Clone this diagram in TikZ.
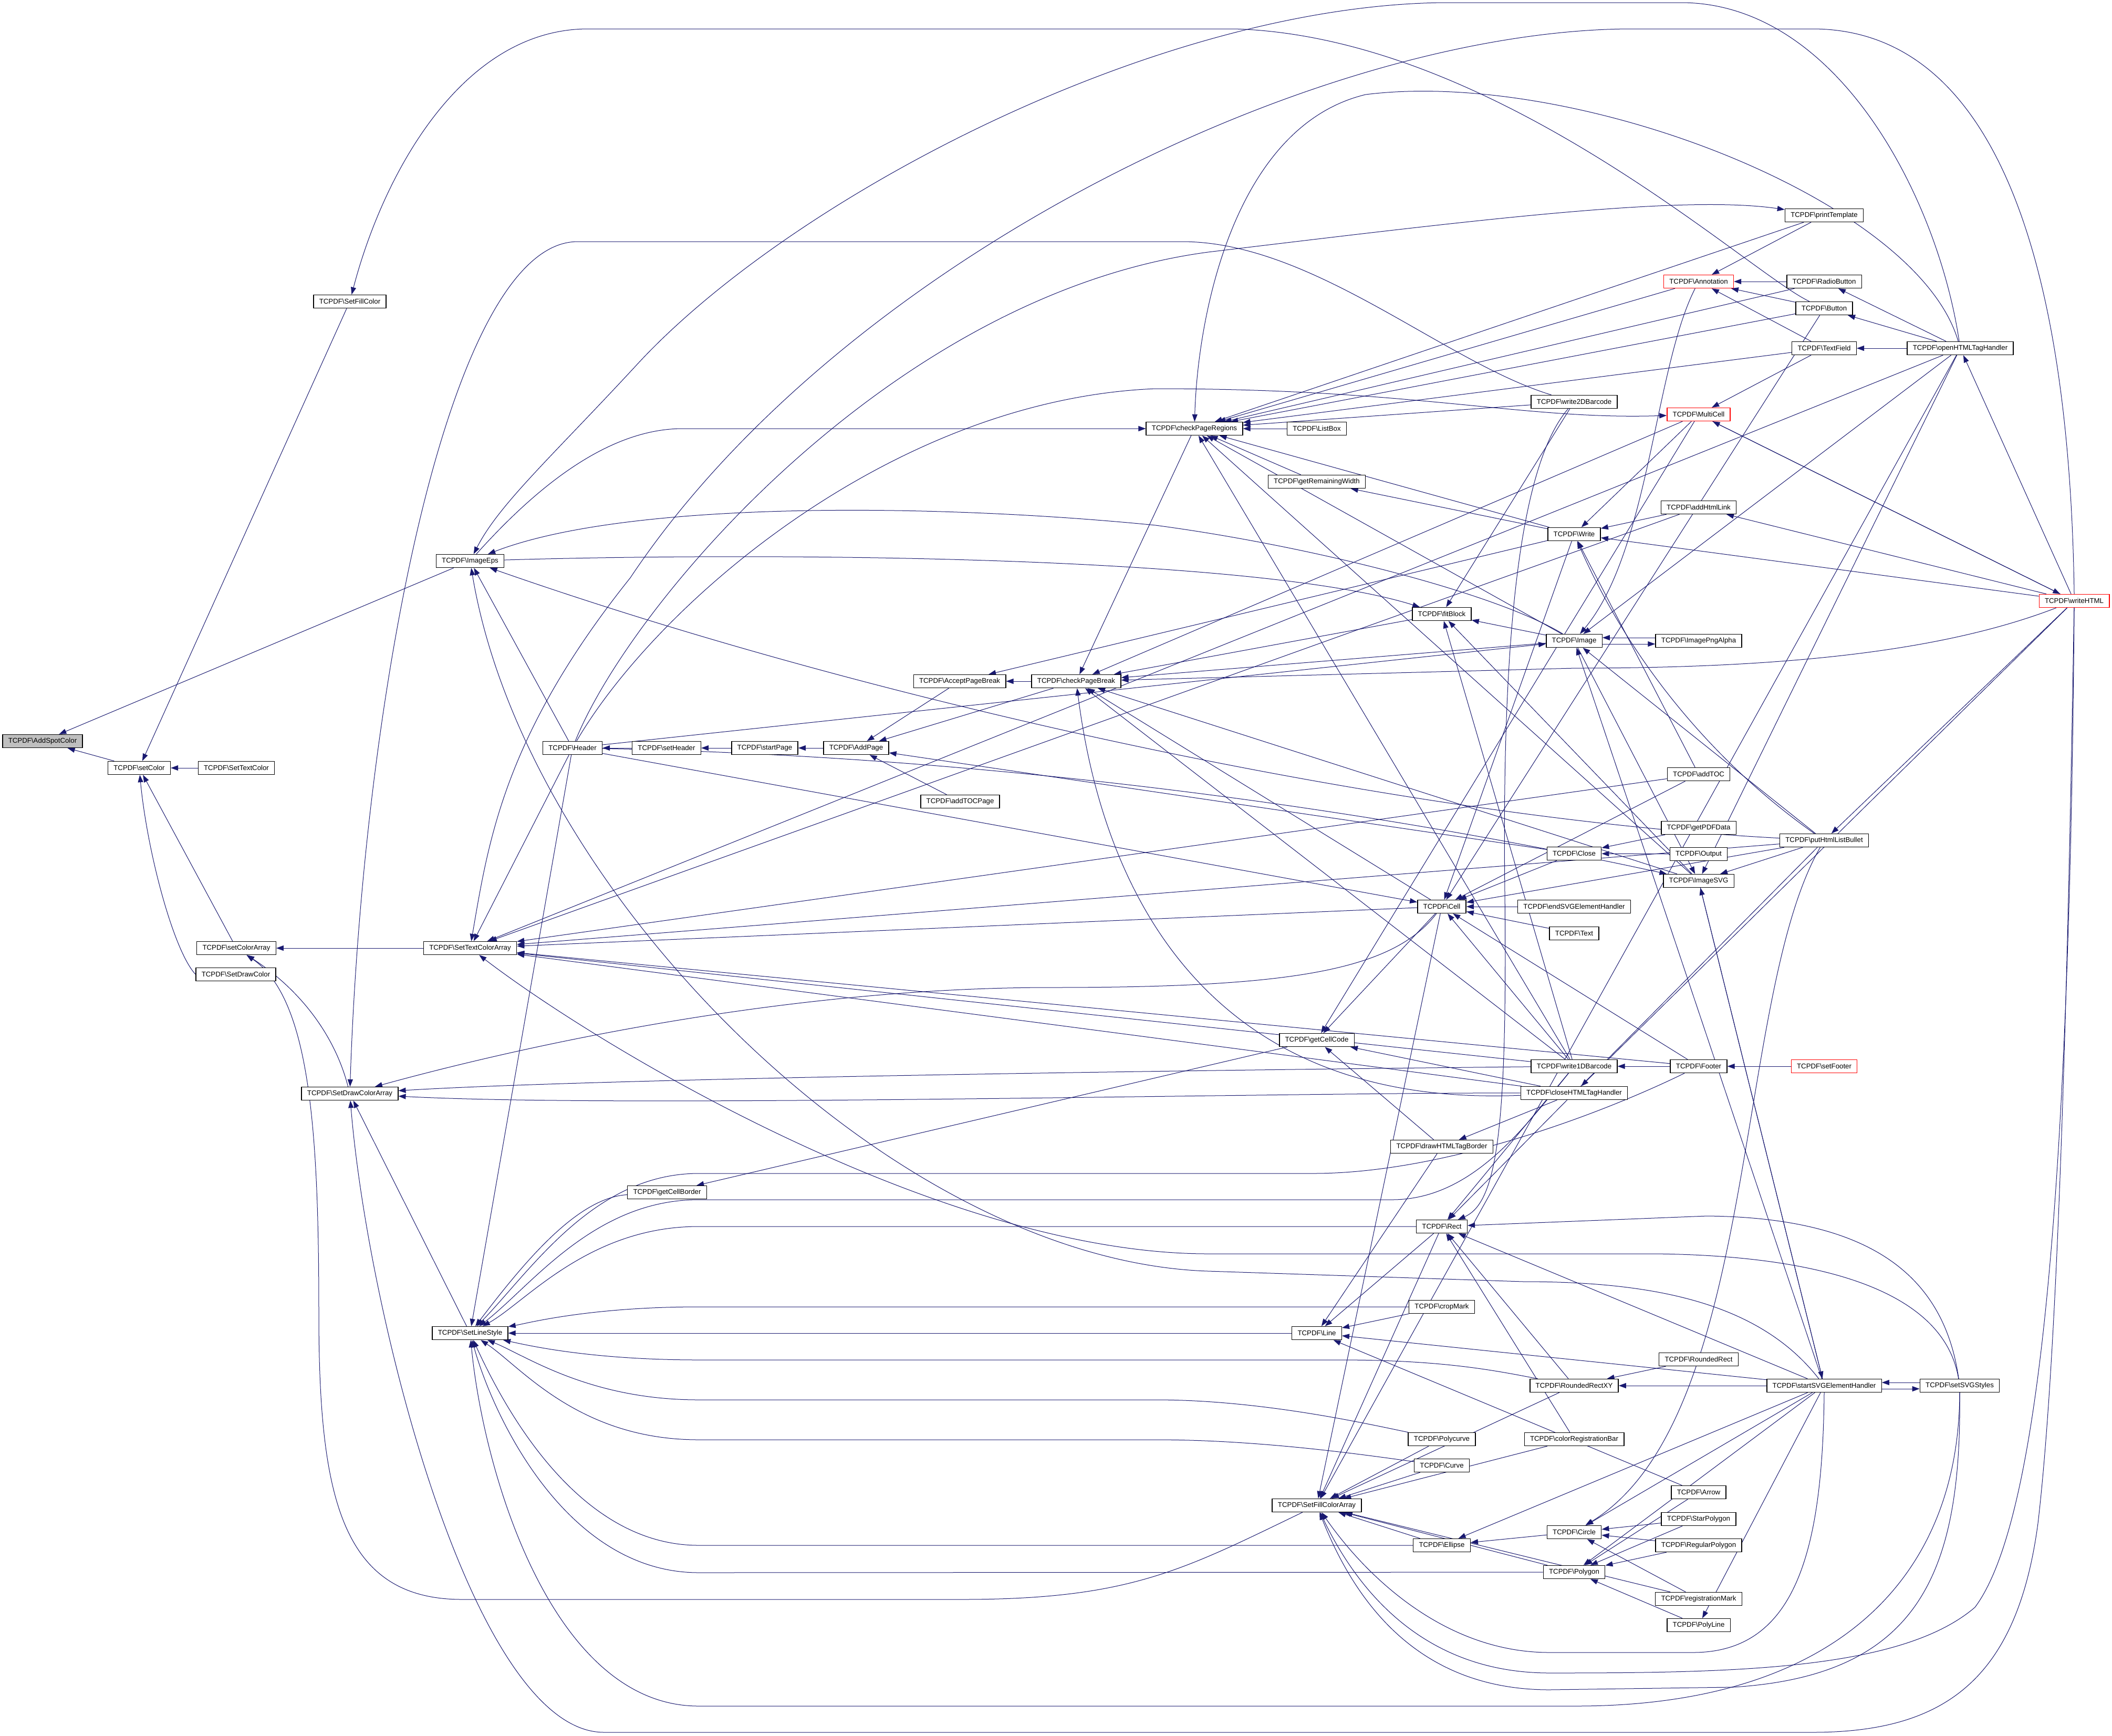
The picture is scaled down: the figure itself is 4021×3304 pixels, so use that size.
\documentclass[tikz,border=0pt]{standalone}
\usepackage{fontspec}
\setmainfont{Liberation Sans}
\usetikzlibrary{arrows.meta, backgrounds}
\definecolor{edgeblue}{RGB}{25, 25, 112}
\definecolor{rootgray}{RGB}{191, 191, 191}
\newcommand{\tc}[1]{TCPDF\textbackslash #1}

\begin{document}
\begin{tikzpicture}[
  x=0.5pt, y=-0.5pt,
  fn/.style={rectangle, draw=black, line width=0.7pt, fill=white,
             font=\fontsize{6.63}{8}\selectfont, inner xsep=5.4pt, inner ysep=0pt,
             minimum height=12.5pt},
  fnred/.style={fn, draw=red},
  fnroot/.style={fn, fill=rootgray},
  callarr/.style={-{Triangle[length=7pt, width=5pt]}, color=edgeblue, line width=0.5pt}
]
\useasboundingbox (0,0) rectangle (4021,3304);

% colour setters
\node[fnroot] (addspot)           at (81,1411)   {\tc{AddSpotColor}};
\node[fn]     (setcolor)          at (265,1462)  {\tc{setColor}};
\node[fn]     (settextcolor)      at (450,1462)  {\tc{SetTextColor}};
\node[fn]     (setcolorarray)     at (450,1805)  {\tc{setColorArray}};
\node[fn]     (setdrawcolor)      at (449,1855)  {\tc{SetDrawColor}};
\node[fn]     (setfillcolor)      at (666,574)   {\tc{SetFillColor}};
\node[fn]     (setdrawcolorarray) at (666,2082)  {\tc{SetDrawColorArray}};
\node[fn]     (imageeps)          at (895,1068)  {\tc{ImageEps}};
\node[fn]     (settextcolorarray) at (895,1805)  {\tc{SetTextColorArray}};
\node[fn]     (setlinestyle)      at (895,2538)  {\tc{SetLineStyle}};

% page handling
\node[fn] (header)        at (1090,1424) {\tc{Header}};
\node[fn] (setheader)     at (1269,1424) {\tc{setHeader}};
\node[fn] (getcellborder) at (1270,2270) {\tc{getCellBorder}};
\node[fn] (startpage)     at (1456,1424) {\tc{startPage}};
\node[fn] (addpage)       at (1630,1424) {\tc{AddPage}};
\node[fn] (acceptpb)      at (1827,1297) {\tc{AcceptPageBreak}};
\node[fn] (addtocpage)    at (1828,1526) {\tc{addTOCPage}};
\node[fn] (checkpb)       at (2049,1297) {\tc{checkPageBreak}};
\node[fn] (checkpr)       at (2274,816)  {\tc{checkPageRegions}};

% column 12-13
\node[fn] (listbox)           at (2507,816)  {\tc{ListBox}};
\node[fn] (getremw)           at (2507,917)  {\tc{getRemainingWidth}};
\node[fn] (getcellcode)       at (2507,1980) {\tc{getCellCode}};
\node[fn] (line)              at (2507,2538) {\tc{Line}};
\node[fn] (setfillcolorarray) at (2507,2866) {\tc{SetFillColorArray}};
\node[fn] (fitblock)   at (2745,1169) {\tc{fitBlock}};
\node[fn] (cell)       at (2745,1726) {\tc{Cell}};
\node[fn] (drawborder) at (2745,2183) {\tc{drawHTMLTagBorder}};
\node[fn] (rect)       at (2745,2335) {\tc{Rect}};
\node[fn] (cropmark)   at (2745,2488) {\tc{cropMark}};
\node[fn] (polycurve)  at (2745,2740) {\tc{Polycurve}};
\node[fn] (curve)      at (2745,2790) {\tc{Curve}};
\node[fn] (ellipse)    at (2745,2942) {\tc{Ellipse}};

% column 14
\node[fn] (write2d)   at (2997,765)  {\tc{write2DBarcode}};
\node[fn] (write)     at (2997,1017) {\tc{Write}};
\node[fn] (image)     at (2997,1220) {\tc{Image}};
\node[fn] (close)     at (2997,1625) {\tc{Close}};
\node[fn] (endsvg)    at (2997,1726) {\tc{endSVGElementHandler}};
\node[fn] (text)      at (2997,1777) {\tc{Text}};
\node[fn] (write1d)   at (2997,2030) {\tc{write1DBarcode}};
\node[fn] (closetag)  at (2997,2081) {\tc{closeHTMLTagHandler}};
\node[fn] (roundedxy) at (2997,2638) {\tc{RoundedRectXY}};
\node[fn] (colorreg)  at (2997,2740) {\tc{colorRegistrationBar}};
\node[fn] (circle)    at (2997,2917) {\tc{Circle}};
\node[fn] (polygon)   at (2997,2993) {\tc{Polygon}};

% column 15
\node[fnred] (annotation) at (3234,536)  {\tc{Annotation}};
\node[fnred] (multicell)  at (3234,789)  {\tc{MultiCell}};
\node[fn] (addhtmllink)   at (3234,966)  {\tc{addHtmlLink}};
\node[fn] (pngalpha)      at (3234,1220) {\tc{ImagePngAlpha}};
\node[fn] (addtoc)        at (3234,1474) {\tc{addTOC}};
\node[fn] (getpdfdata)    at (3234,1576) {\tc{getPDFData}};
\node[fn] (output)        at (3234,1626) {\tc{Output}};
\node[fn] (imagesvg)      at (3234,1677) {\tc{ImageSVG}};
\node[fn] (footer)        at (3234,2030) {\tc{Footer}};
\node[fn] (roundedrect)   at (3234,2588) {\tc{RoundedRect}};
\node[fn] (arrow)         at (3234,2841) {\tc{Arrow}};
\node[fn] (starpolygon)   at (3234,2892) {\tc{StarPolygon}};
\node[fn] (regpolygon)    at (3234,2942) {\tc{RegularPolygon}};
\node[fn] (regmark)       at (3234,3044) {\tc{registrationMark}};
\node[fn] (polyline)      at (3234,3094) {\tc{PolyLine}};

% column 16-18
\node[fn] (printtemplate) at (3473,410)  {\tc{printTemplate}};
\node[fn] (radiobutton)   at (3473,536)  {\tc{RadioButton}};
\node[fn] (button)        at (3473,587)  {\tc{Button}};
\node[fn] (textfield)     at (3473,663)  {\tc{TextField}};
\node[fn] (putbullet)     at (3473,1600) {\tc{putHtmlListBullet}};
\node[fnred] (setfooter)  at (3473,2030) {\tc{setFooter}};
\node[fn] (startsvg)      at (3473,2638) {\tc{startSVGElementHandler}};
\node[fn] (opentag)       at (3732,663)  {\tc{openHTMLTagHandler}};
\node[fn] (setsvgstyles)  at (3731,2638) {\tc{setSVGStyles}};
\node[fnred] (writehtml)  at (3949,1144) {\tc{writeHTML}};

\begin{scope}[on background layer]
\fill[white] (0,0) rectangle (4021,3304);

% left part
\draw[callarr] (setcolor) -- (addspot);
\draw[callarr] (imageeps) -- (addspot);
\draw[callarr] (setfillcolor) -- (setcolor);
\draw[callarr] (settextcolor) -- (setcolor);
\draw[callarr] (setcolorarray) -- (setcolor);
\draw[callarr] (setdrawcolor.west) .. controls (330,1810) and (280,1620) .. (setcolor);
\draw[callarr] (settextcolorarray) -- (setcolorarray);
\draw[callarr] (setdrawcolorarray) .. controls (640,1980) and (580,1890) .. (setcolorarray);
\draw[callarr] (setfillcolorarray) .. controls (2250,2990) and (2150,3045) .. (1830,3045) -- (880,3045)
  .. controls (650,3045) and (607,2850) .. (607,2500) .. controls (607,2150) and (590,1900) .. (setcolorarray);
\draw[callarr] (button) .. controls (3330,520) and (2850,70) .. (2350,55) -- (1120,55)
  .. controls (880,55) and (730,330) .. (setfillcolor);
\draw[callarr] (write2d) .. controls (2750,690) and (2500,460) .. (2250,460) -- (1100,460)
  .. controls (850,460) and (690,1350) .. (setdrawcolorarray);
\draw[callarr] (setlinestyle) -- (setdrawcolorarray);
\draw[callarr] (write1d) .. controls (2500,2035) and (1200,2050) .. (setdrawcolorarray);
\draw[callarr] (closetag) .. controls (2400,2080) and (1200,2110) .. (setdrawcolorarray);
\draw[callarr] (cell) .. controls (2650,1850) and (2450,1880) .. (2000,1880)
  .. controls (1500,1880) and (1000,1990) .. (setdrawcolorarray);
\draw[callarr] (writehtml) .. controls (3935,2000) and (3915,2600) .. (3880,2900)
  .. controls (3840,3200) and (3700,3298) .. (3450,3298) -- (1150,3298)
  .. controls (900,3298) and (700,2500) .. (setdrawcolorarray);

% SetTextColorArray
\draw[callarr] (header) -- (settextcolorarray);
\draw[callarr] (footer) -- (settextcolorarray);
\draw[callarr] (cell) -- (settextcolorarray);
\draw[callarr] (addtoc) -- (settextcolorarray);
\draw[callarr] (addhtmllink) -- (settextcolorarray);
\draw[callarr] (write1d) -- (settextcolorarray);
\draw[callarr] (opentag) -- (settextcolorarray);
\draw[callarr] (closetag) -- (settextcolorarray);
\draw[callarr] (putbullet) -- (settextcolorarray);
\draw[callarr] (writehtml.north) .. controls (3940,500) and (3800,55) .. (3450,55) -- (3100,55)
  .. controls (2500,60) and (1600,500) .. (1200,1100) .. controls (960,1400) and (930,1600) .. (settextcolorarray);
\draw[callarr] (setsvgstyles) .. controls (3700,2450) and (3450,2390) .. (3150,2387) -- (2300,2387)
  .. controls (1800,2387) and (1150,2000) .. (settextcolorarray);

% ImageEps
\draw[callarr] (header) -- (imageeps);
\draw[callarr] (image) .. controls (2850,1130) and (2500,1040) .. (2200,1000)
  .. controls (1800,960) and (1200,950) .. (imageeps);
\draw[callarr] (opentag) .. controls (3690,380) and (3500,5) .. (3200,5) -- (2750,5)
  .. controls (2200,10) and (1500,380) .. (1210,697) .. controls (1050,870) and (950,960) .. (imageeps);
\draw[callarr] (putbullet) .. controls (2700,1560) and (1700,1350) .. (imageeps);
\draw[callarr] (startsvg) .. controls (3350,2480) and (3150,2440) .. (2900,2440) -- (2300,2420)
  .. controls (1700,2400) and (1000,1700) .. (imageeps);
\draw[callarr] (imageeps) .. controls (1010,940) and (1150,816) .. (1300,816) -- (checkpr);
\draw[callarr] (imageeps) .. controls (1500,1050) and (2400,1060) .. (fitblock);

% SetLineStyle
\draw[callarr] (header) -- (setlinestyle);
\draw[callarr] (getcellborder) .. controls (1100,2280) and (1000,2400) .. (setlinestyle);
\draw[callarr] (footer) .. controls (3050,2120) and (2750,2234) .. (2500,2234) -- (1330,2234)
  .. controls (1130,2234) and (1010,2420) .. (setlinestyle);
\draw[callarr] (write1d) .. controls (2900,2150) and (2800,2284) .. (2650,2284) -- (1330,2284)
  .. controls (1130,2284) and (1010,2450) .. (setlinestyle);
\draw[callarr] (rect) -- (1330,2335) .. controls (1120,2335) and (1000,2480) .. (setlinestyle);
\draw[callarr] (cropmark) -- (1330,2488) .. controls (1120,2488) and (1000,2520) .. (setlinestyle);
\draw[callarr] (line) -- (setlinestyle);
\draw[callarr] (roundedxy) .. controls (2850,2610) and (2750,2589) .. (2550,2589) -- (1330,2589)
  .. controls (1120,2589) and (1000,2560) .. (setlinestyle);
\draw[callarr] (polycurve) .. controls (2600,2710) and (2400,2665) .. (2200,2665) -- (1330,2665)
  .. controls (1120,2665) and (1000,2580) .. (setlinestyle);
\draw[callarr] (curve) .. controls (2600,2770) and (2400,2741) .. (2200,2741) -- (1330,2741)
  .. controls (1100,2741) and (990,2600) .. (setlinestyle);
\draw[callarr] (ellipse) -- (1330,2942) .. controls (1100,2942) and (960,2680) .. (setlinestyle);
\draw[callarr] (polygon) -- (1330,2994) .. controls (1080,2994) and (940,2700) .. (setlinestyle);
\draw[callarr] (setsvgstyles) .. controls (3730,3000) and (3500,3248) .. (3000,3248) -- (1330,3248)
  .. controls (1050,3248) and (920,2800) .. (setlinestyle);

% page chain
\draw[callarr] (setheader) -- (header);
\draw[callarr] (startpage) -- (setheader);
\draw[callarr] (addpage) -- (startpage);
\draw[callarr] (addtocpage) -- (addpage);
\draw[callarr] (acceptpb) -- (addpage);
\draw[callarr] (checkpb) -- (addpage);
\draw[callarr] (close) -- (addpage);
\draw[callarr] (checkpb) -- (acceptpb);
\draw[callarr] (write) -- (acceptpb);
\draw[callarr] (header) -- (cell);
\draw[callarr] (header) -- (image);
\draw[callarr] (header) .. controls (1813,1438) and (2527,1523) .. (imagesvg);
\draw[callarr] (header) .. controls (1250,1150) and (1700,760) .. (2200,740)
  .. controls (2700,740) and (2900,800) .. (multicell);
\draw[callarr] (header) .. controls (1200,1150) and (1700,560) .. (2300,480)
  .. controls (2800,420) and (3200,370) .. (printtemplate);

% checkPageBreak
\draw[callarr] (checkpr) -- (checkpb);
\draw[callarr] (fitblock) -- (checkpb);
\draw[callarr] (cell) -- (checkpb);
\draw[callarr] (multicell) -- (checkpb);
\draw[callarr] (image) -- (checkpb);
\draw[callarr] (imagesvg) -- (checkpb);
\draw[callarr] (writehtml) .. controls (3700,1240) and (3400,1272) .. (3000,1272) -- (checkpb);
\draw[callarr] (closetag) .. controls (2300,2110) and (2100,1700) .. (checkpb);
\draw[callarr] (write1d) -- (checkpb);

% checkPageRegions
\draw[callarr] (listbox) -- (checkpr);
\draw[callarr] (getremw) -- (checkpr);
\draw[callarr] (write2d) -- (checkpr);
\draw[callarr] (write) -- (checkpr);
\draw[callarr] (image) -- (checkpr);
\draw[callarr] (imagesvg) -- (checkpr);
\draw[callarr] (write1d) -- (checkpr);
\draw[callarr] (annotation) -- (checkpr);
\draw[callarr] (printtemplate) -- (checkpr);
\draw[callarr] (radiobutton) -- (checkpr);
\draw[callarr] (button) -- (checkpr);
\draw[callarr] (textfield) -- (checkpr);
\draw[callarr] (opentag) .. controls (3650,380) and (3000,130) .. (2600,180)
  .. controls (2350,240) and (2280,600) .. (checkpr);
\draw[callarr] (write) -- (getremw);

% fitBlock and Cell
\draw[callarr] (image) -- (fitblock);
\draw[callarr] (imagesvg) -- (fitblock);
\draw[callarr] (write1d) -- (fitblock);
\draw[callarr] (write2d) -- (fitblock);
\draw[callarr] (write) -- (cell);
\draw[callarr] (text) -- (cell);
\draw[callarr] (endsvg) -- (cell);
\draw[callarr] (addtoc) -- (cell);
\draw[callarr] (close) -- (cell);
\draw[callarr] (write1d) -- (cell);
\draw[callarr] (footer) -- (cell);
\draw[callarr] (button) -- (cell);
\draw[callarr] (putbullet) -- (cell);

% getCellCode
\draw[callarr] (cell) -- (getcellcode);
\draw[callarr] (multicell) -- (getcellcode);
\draw[callarr] (drawborder) -- (getcellcode);
\draw[callarr] (closetag) -- (getcellcode);
\draw[callarr] (getcellcode) -- (getcellborder);
\draw[callarr] (closetag) -- (drawborder);
\draw[callarr] (drawborder) -- (line);

% shapes
\draw[callarr] (roundedxy) -- (rect);
\draw[callarr] (colorreg) -- (rect);
\draw[callarr] (write1d) -- (rect);
\draw[callarr] (write2d) .. controls (2880,900) and (2860,1300) .. (2865,1700)
  .. controls (2870,2150) and (2850,2290) .. (rect);
\draw[callarr] (startsvg) -- (rect);
\draw[callarr] (putbullet) -- (rect);
\draw[callarr] (setsvgstyles) .. controls (3700,2420) and (3550,2318) .. (3250,2315) -- (rect);
\draw[callarr] (roundedrect) -- (roundedxy);
\draw[callarr] (startsvg) -- (roundedxy);
\draw[callarr] (startsvg) -- (circle);
\draw[callarr] (starpolygon) -- (circle);
\draw[callarr] (regpolygon) -- (circle);
\draw[callarr] (regmark) -- (circle);
\draw[callarr] (putbullet) .. controls (3300,1900) and (3350,2700) .. (circle);
\draw[callarr] (startsvg) -- (polygon);
\draw[callarr] (starpolygon) -- (polygon);
\draw[callarr] (regpolygon) -- (polygon);
\draw[callarr] (polyline) -- (polygon);
\draw[callarr] (arrow) -- (polygon);
\draw[callarr] (startsvg) -- (polyline);
\draw[callarr] (circle) -- (ellipse);
\draw[callarr] (startsvg) -- (ellipse);
\draw[callarr] (rect) -- (line);
\draw[callarr] (cropmark) -- (line);
\draw[callarr] (startsvg) -- (line);
\draw[callarr] (arrow) -- (line);

% SetFillColorArray
\draw[callarr] (cell) -- (setfillcolorarray);
\draw[callarr] (rect) -- (setfillcolorarray);
\draw[callarr] (polycurve) -- (setfillcolorarray);
\draw[callarr] (curve) -- (setfillcolorarray);
\draw[callarr] (ellipse) -- (setfillcolorarray);
\draw[callarr] (polygon) -- (setfillcolorarray);
\draw[callarr] (roundedxy) -- (setfillcolorarray);
\draw[callarr] (colorreg) -- (setfillcolorarray);
\draw[callarr] (regmark) -- (setfillcolorarray);
\draw[callarr] (startsvg.south) .. controls (3470,2950) and (3420,3146) .. (3223,3146) -- (2950,3146)
  .. controls (2750,3146) and (2600,3000) .. (setfillcolorarray);
\draw[callarr] (setsvgstyles.south) .. controls (3735,3000) and (3650,3190) .. (3300,3212) -- (2950,3217)
  .. controls (2700,3217) and (2580,3050) .. (setfillcolorarray);
\draw[callarr] (writehtml.south) .. controls (3940,2300) and (3880,2900) .. (3760,3060)
  .. controls (3620,3180) and (3300,3185) .. (2950,3185) .. controls (2720,3185) and (2590,3040) .. (setfillcolorarray);
\draw[callarr] (opentag) -- (setfillcolorarray);

% forms and html
\draw[callarr] (printtemplate) -- (annotation);
\draw[callarr] (radiobutton) -- (annotation);
\draw[callarr] (button) -- (annotation);
\draw[callarr] (textfield) -- (annotation);
\draw[callarr] (annotation) .. controls (3150,700) and (3140,1050) .. (image);
\draw[callarr] (writehtml) -- (multicell);
\draw[callarr] (textfield) -- (multicell);
\draw[callarr] (multicell) -- (writehtml);
\draw[callarr] (multicell) -- (write);
\draw[callarr] (writehtml) -- (write);
\draw[callarr] (addhtmllink) -- (write);
\draw[callarr] (addtoc) -- (write);
\draw[callarr] (putbullet) .. controls (3260,1450) and (3102,1256) .. (write);
\draw[callarr] (writehtml) -- (addhtmllink);
\draw[callarr] ([yshift=-3pt]image.east) -- ([yshift=-3pt]pngalpha.west);
\draw[callarr] ([yshift=3pt]pngalpha.west) -- ([yshift=3pt]image.east);
\draw[callarr] (opentag) -- (image);
\draw[callarr] (putbullet) -- (image);
\draw[callarr] (startsvg) -- (image);
\draw[callarr] (image) -- (imagesvg);
\draw[callarr] (opentag) -- (imagesvg);
\draw[callarr] (putbullet) -- (imagesvg);
\draw[callarr] (startsvg) -- (imagesvg);
\draw[callarr] (imagesvg) -- (startsvg);
\draw[callarr] (getpdfdata) -- (close);
\draw[callarr] (output) -- (close);
\draw[callarr] (writehtml) -- (putbullet);
\draw[callarr] (writehtml) -- (closetag);
\draw[callarr] (writehtml) -- (opentag);
\draw[callarr] (opentag) -- (radiobutton);
\draw[callarr] (opentag) -- (button);
\draw[callarr] (opentag) -- (textfield);
\draw[callarr] (setfooter) -- (footer);
\draw[callarr] (footer) -- (write1d);
\draw[callarr] ([yshift=-3pt]startsvg.east) -- ([yshift=-3pt]setsvgstyles.west);
\draw[callarr] ([yshift=3pt]setsvgstyles.west) -- ([yshift=3pt]startsvg.east);
\end{scope}
\end{tikzpicture}
\end{document}
